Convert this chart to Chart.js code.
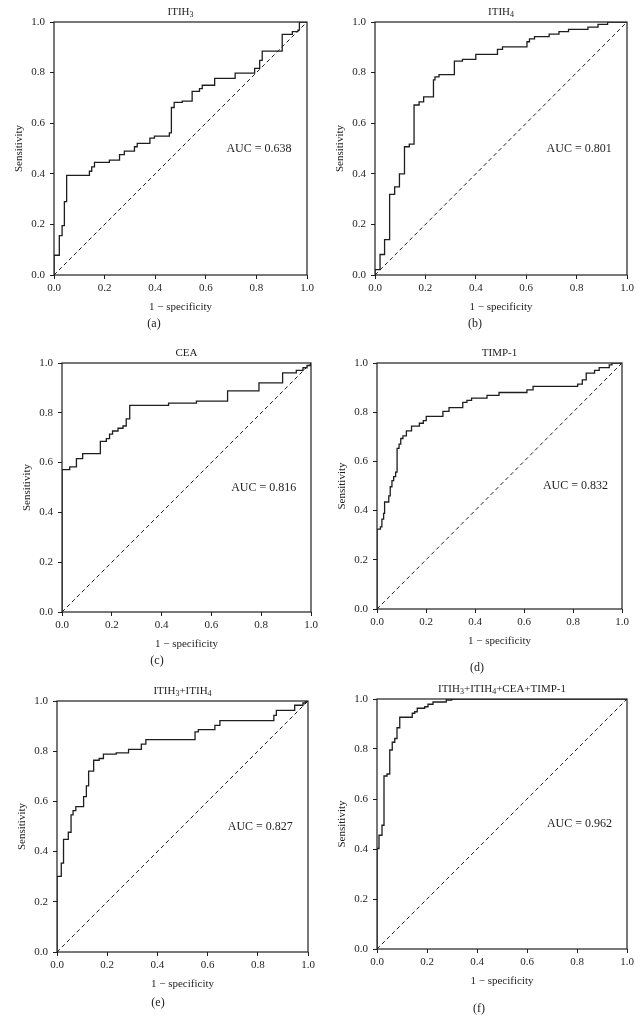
<!DOCTYPE html>
<html>
<head>
<meta charset="utf-8">
<script src="https://cdn.jsdelivr.net/npm/chart.js@4.4.0/dist/chart.umd.min.js"></script>
<style>
  body { margin: 0; background: #fff; width: 642px; height: 1035px; position: relative; overflow: hidden;
         font-family: "Liberation Serif", "DejaVu Serif", serif; }
  .panel { position: absolute; }
  .tag { position: absolute; font-size: 12px; color: #222; transform: translate(-50%, -50%); white-space: nowrap; }
</style>
</head>
<body>
<script>
// ROC curves: 1 - specificity (x) and sensitivity (y)
const itih3Fpr = [0, 0, 0.021, 0.032, 0.041, 0.05, 0.14, 0.149, 0.16, 0.219, 0.259, 0.278, 0.318, 0.329, 0.379, 0.397, 0.456, 0.464, 0.475, 0.507, 0.546, 0.575, 0.586, 0.635, 0.716, 0.793, 0.813, 0.823, 0.902, 0.942, 0.964, 0.97, 1.0];
const itih3Tpr = [0, 0.078, 0.156, 0.195, 0.29, 0.394, 0.41, 0.427, 0.445, 0.454, 0.476, 0.49, 0.507, 0.52, 0.541, 0.549, 0.562, 0.662, 0.682, 0.687, 0.726, 0.737, 0.75, 0.777, 0.798, 0.817, 0.848, 0.885, 0.951, 0.962, 0.968, 1.0, 1.0];

const itih4Fpr = [0, 0, 0.02, 0.038, 0.058, 0.078, 0.097, 0.117, 0.136, 0.155, 0.175, 0.193, 0.232, 0.238, 0.254, 0.315, 0.347, 0.4, 0.486, 0.506, 0.603, 0.613, 0.633, 0.691, 0.73, 0.768, 0.845, 0.885, 0.923, 1.0];
const itih4Tpr = [0, 0.021, 0.081, 0.14, 0.319, 0.348, 0.4, 0.507, 0.517, 0.672, 0.684, 0.704, 0.771, 0.783, 0.792, 0.845, 0.852, 0.872, 0.892, 0.902, 0.922, 0.933, 0.942, 0.952, 0.962, 0.971, 0.98, 0.991, 1.0, 1.0];

const ceaFpr = [0, 0, 0.031, 0.058, 0.083, 0.154, 0.178, 0.191, 0.203, 0.225, 0.245, 0.258, 0.272, 0.428, 0.54, 0.665, 0.791, 0.886, 0.941, 0.968, 0.984, 1.0];
const ceaTpr = [0, 0.572, 0.583, 0.616, 0.636, 0.685, 0.696, 0.714, 0.727, 0.738, 0.747, 0.776, 0.83, 0.839, 0.847, 0.888, 0.92, 0.96, 0.97, 0.981, 0.99, 1.0];

const timpFpr = [0, 0, 0.014, 0.02, 0.027, 0.031, 0.048, 0.054, 0.061, 0.068, 0.076, 0.082, 0.09, 0.097, 0.106, 0.12, 0.141, 0.173, 0.189, 0.201, 0.269, 0.294, 0.35, 0.367, 0.386, 0.449, 0.498, 0.612, 0.637, 0.819, 0.838, 0.854, 0.888, 0.907, 0.948, 0.959, 1.0];
const timpTpr = [0, 0.325, 0.334, 0.365, 0.389, 0.435, 0.46, 0.497, 0.522, 0.538, 0.556, 0.653, 0.67, 0.693, 0.704, 0.724, 0.743, 0.755, 0.766, 0.783, 0.803, 0.819, 0.84, 0.848, 0.857, 0.868, 0.88, 0.891, 0.905, 0.914, 0.931, 0.959, 0.97, 0.981, 0.992, 1.0, 1.0];

const pairFpr = [0, 0, 0.017, 0.026, 0.045, 0.056, 0.064, 0.075, 0.106, 0.117, 0.126, 0.146, 0.168, 0.185, 0.236, 0.285, 0.336, 0.354, 0.55, 0.563, 0.629, 0.649, 0.864, 0.874, 0.947, 0.98, 0.99, 1.0];
const pairTpr = [0, 0.301, 0.354, 0.449, 0.477, 0.546, 0.563, 0.579, 0.619, 0.662, 0.721, 0.764, 0.771, 0.788, 0.793, 0.807, 0.828, 0.846, 0.877, 0.886, 0.903, 0.922, 0.943, 0.963, 0.983, 0.992, 1.0, 1.0];

const allFpr = [0, 0, 0.008, 0.02, 0.028, 0.04, 0.051, 0.061, 0.071, 0.08, 0.091, 0.141, 0.151, 0.161, 0.191, 0.204, 0.224, 0.277, 0.299, 1.0];
const allTpr = [0, 0.402, 0.455, 0.495, 0.692, 0.7, 0.796, 0.827, 0.842, 0.885, 0.927, 0.943, 0.949, 0.963, 0.969, 0.979, 0.988, 0.996, 1.0, 1.0];

const chanceLine = [0, 1];
const tickValues = [0, 0.2, 0.4, 0.6, 0.8, 1.0];
const panelTitles = ['ITIH_3', 'ITIH_4', 'CEA', 'TIMP-1', 'ITIH_3+ITIH_4', 'ITIH_3+ITIH_4+CEA+TIMP-1'];
const aucValues = ['0.638', '0.801', '0.816', '0.832', '0.827', '0.962'];
const panelTags = ['(a)', '(b)', '(c)', '(d)', '(e)', '(f)'];

// plot rectangles [left, top, right, bottom] and tag centres, in page pixels
const panels = [
  { fpr: itih3Fpr, tpr: itih3Tpr, box: [54, 22, 307, 275], tag: [154, 323] },
  { fpr: itih4Fpr, tpr: itih4Tpr, box: [375, 22, 627, 275], tag: [475, 323] },
  { fpr: ceaFpr, tpr: ceaTpr, box: [62, 363, 311, 612], tag: [157, 660] },
  { fpr: timpFpr, tpr: timpTpr, box: [377, 363, 622, 609], tag: [477, 667] },
  { fpr: pairFpr, tpr: pairTpr, box: [57, 701, 308, 952], tag: [158, 1002] },
  { fpr: allFpr, tpr: allTpr, box: [377, 699, 627, 949], tag: [479, 1008] }
];

const INK = '#1e1e1e';
const YW = 50, XH = 43, PT = 22, PR = 14;
Chart.defaults.font.family = '"Liberation Serif", "DejaVu Serif", serif';
Chart.defaults.color = INK;

// box round the plot area
const framePlugin = {
  id: 'frame',
  afterDatasetsDraw(chart) {
    const { ctx, chartArea: a } = chart;
    ctx.save();
    ctx.strokeStyle = INK;
    ctx.lineWidth = 1.2;
    ctx.strokeRect(a.left, a.top, a.right - a.left, a.bottom - a.top);
    ctx.restore();
  }
};

// panel title (with subscripts) and AUC note
const textPlugin = {
  id: 'panelText',
  afterDraw(chart, args, opts) {
    const { ctx, chartArea: a, scales } = chart;
    ctx.save();
    ctx.fillStyle = INK;
    ctx.textBaseline = 'middle';
    const parts = opts.title.split(/_(\d)/);
    const big = '11px "Liberation Serif", serif', small = '8px "Liberation Serif", serif';
    let total = 0;
    parts.forEach((t, i) => { ctx.font = i % 2 ? small : big; total += ctx.measureText(t).width; });
    let x = (a.left + a.right) / 2 - total / 2;
    const y = a.top - 10;
    ctx.textAlign = 'left';
    parts.forEach((t, i) => {
      ctx.font = i % 2 ? small : big;
      ctx.fillText(t, x, i % 2 ? y + 3 : y);
      x += ctx.measureText(t).width;
    });
    ctx.font = '12px "Liberation Serif", serif';
    ctx.textAlign = 'center';
    ctx.fillText('AUC = ' + opts.auc, scales.x.getPixelForValue(0.81), scales.y.getPixelForValue(0.5));
    ctx.restore();
  }
};

function axis(titleText, fit, titlePad) {
  return {
    type: 'linear', min: 0, max: 1,
    afterBuildTicks: s => { s.ticks = tickValues.map(v => ({ value: v })); },
    afterFit: fit,
    ticks: { callback: v => v.toFixed(1), font: { size: 11 }, color: INK, autoSkip: false, maxRotation: 0 },
    grid: { drawOnChartArea: false, drawTicks: true, tickLength: 4, color: INK, lineWidth: 1 },
    border: { display: false },
    title: { display: true, text: titleText, font: { size: 11 }, color: INK, padding: titlePad }
  };
}

panels.forEach((p, i) => {
  const [L, T, R, B] = p.box;
  const w = R - L + YW + PR, h = B - T + PT + XH;
  const wrap = document.createElement('div');
  wrap.className = 'panel';
  wrap.style.left = (L - YW) + 'px';
  wrap.style.top = (T - PT) + 'px';
  wrap.style.width = w + 'px';
  wrap.style.height = h + 'px';
  const canvas = document.createElement('canvas');
  canvas.width = w;
  canvas.height = h;
  wrap.appendChild(canvas);
  document.body.appendChild(wrap);

  const tag = document.createElement('div');
  tag.className = 'tag';
  tag.textContent = panelTags[i];
  tag.style.left = p.tag[0] + 'px';
  tag.style.top = p.tag[1] + 'px';
  document.body.appendChild(tag);

  const xAxis = axis('1 \u2212 specificity', s => { s.height = XH; }, { top: 0, bottom: 4 });
  xAxis.ticks.padding = 3;
  const yAxis = axis('Sensitivity', s => { s.width = YW; }, { top: 9, bottom: 0 });
  yAxis.ticks.padding = 5;

  new Chart(canvas, {
    type: 'line',
    data: {
      datasets: [{
        data: p.fpr.map((x, k) => ({ x: x, y: p.tpr[k] })),
        stepped: 'before',
        borderColor: INK,
        borderWidth: 1.3,
        pointRadius: 0,
        fill: false
      }, {
        data: chanceLine.map(v => ({ x: v, y: v })),
        borderColor: INK,
        borderWidth: 1,
        borderDash: [4, 3],
        pointRadius: 0,
        fill: false
      }]
    },
    options: {
      responsive: false,
      animation: false,
      layout: { padding: { top: PT, right: PR, left: 0, bottom: 0 } },
      plugins: {
        legend: { display: false },
        tooltip: { enabled: false },
        panelText: { title: panelTitles[i], auc: aucValues[i] }
      },
      scales: { x: xAxis, y: yAxis }
    },
    plugins: [framePlugin, textPlugin]
  });
});
</script>
</body>
</html>
